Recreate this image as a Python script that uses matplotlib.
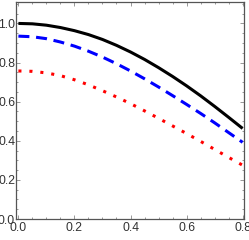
import matplotlib
matplotlib.use("Agg")
from matplotlib import pyplot as plt
from matplotlib.ticker import MultipleLocator

# values
x = [0.0, 0.05, 0.1, 0.15, 0.2, 0.25, 0.3, 0.35, 0.4, 0.45, 0.5, 0.55, 0.6, 0.65, 0.7, 0.75, 0.8]
black = [1.000, 0.998, 0.991, 0.979, 0.963, 0.943, 0.918, 0.888, 0.854, 0.816, 0.774, 0.729, 0.681, 0.630, 0.576, 0.520, 0.463]
blue = [0.935, 0.932, 0.922, 0.905, 0.884, 0.858, 0.828, 0.794, 0.757, 0.717, 0.675, 0.631, 0.586, 0.540, 0.492, 0.442, 0.392]
red = [0.757, 0.755, 0.747, 0.733, 0.712, 0.686, 0.656, 0.624, 0.590, 0.553, 0.515, 0.476, 0.437, 0.397, 0.356, 0.315, 0.275]
xticks = [0.0, 0.2, 0.4, 0.6, 0.8]
yticks = [0.0, 0.2, 0.4, 0.6, 0.8, 1.0]

plt.rcParams['font.family'] = ['Liberation Sans Narrow', 'Liberation Sans', 'DejaVu Sans']

fig = plt.figure(figsize=(2.49, 2.40), dpi=100)
ax = fig.add_axes([0.066, 0.0875, 0.914, 0.9045])

ax.plot(x, black, color='black', lw=2.2, solid_capstyle='butt')
ax.plot(x, blue, color='#0000ff', lw=2.2, dashes=(3.6, 2.2), dash_capstyle='butt')
ax.plot(x, red, color='#ff0000', lw=2.2, dashes=(1.0, 2.6), dash_capstyle='butt')

ax.set_xlim(-0.007, 0.805)
ax.set_ylim(0.0, 1.11)
ax.set_xticks(xticks)
ax.set_yticks(yticks)
ax.set_xticklabels(['%.1f' % v for v in xticks])
ax.set_yticklabels(['%.1f' % v for v in yticks])
ax.xaxis.set_minor_locator(MultipleLocator(0.05))
ax.yaxis.set_minor_locator(MultipleLocator(0.05))

for s in ax.spines.values():
    s.set_color('#555555')
    s.set_linewidth(0.9)
ax.tick_params(which='both', direction='in', top=True, right=True, color='#888888', width=0.6)
ax.tick_params(which='major', length=3.0, labelsize=8.8, labelcolor='#333333')
ax.tick_params(which='minor', length=1.6)
ax.tick_params(axis='y', pad=1.0)
ax.tick_params(axis='x', pad=2.5)

fig.savefig('out.png', dpi=100)
